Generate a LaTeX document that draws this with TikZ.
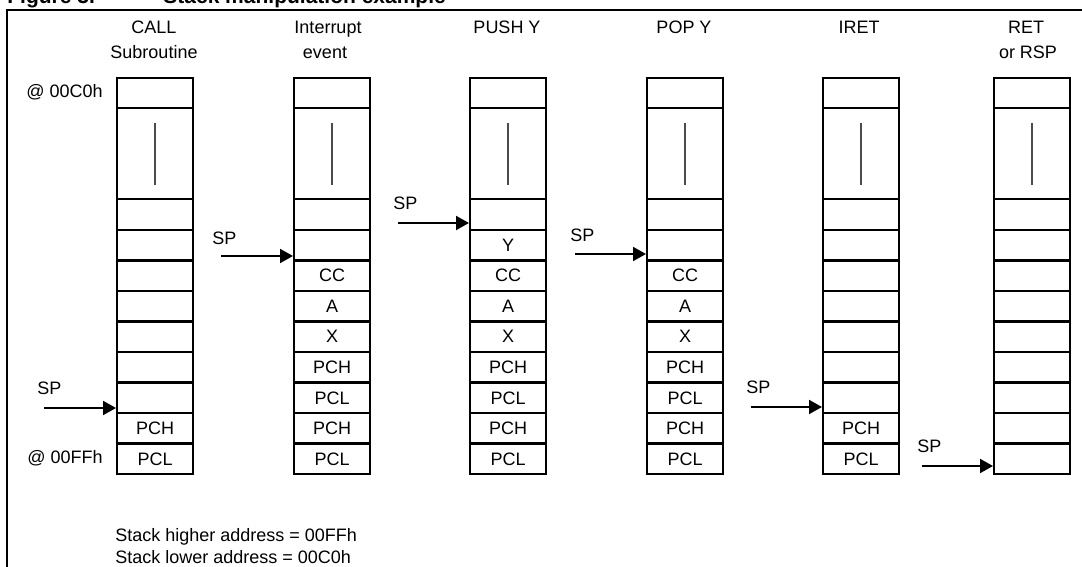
\documentclass[tikz,border=0pt]{standalone}
\usepackage{fontspec}
\setmainfont{Liberation Sans}
\usetikzlibrary{arrows.meta}

\tikzset{
  txt/.style={inner sep=0pt, font=\fontsize{9}{11}\selectfont},
  cell/.style={draw, line width=1.2pt, inner sep=0pt, minimum width=38pt,
    minimum height=15.28pt, anchor=north west, font=\fontsize{9}{11}\selectfont},
  gapline/.style={draw=black!70, line width=0.75pt},
  sparrow/.style={line width=1pt, -{Triangle[length=6.5pt,width=7pt]}},
  frame/.style={line width=0.6pt}
}

% #1 stack id, #2 left edge, #3 contents of the nine lower cells (top to bottom)
\newcommand\drawstack[3]{%
  \node[cell, minimum height=15pt] (#1-top) at (#2,77) {};
  \node[cell, minimum height=45.5pt] (#1-gap) at (#2,107) {};
  \draw[gapline] ([yshift=15.5pt]#1-gap.center) -- ([yshift=-15.5pt]#1-gap.center);
  \foreach \lab [count=\i] in {#3} {
    \node[cell] (#1-\i) at ({#2},{198+(\i-1)*30.556}) {\lab};
  }%
}

\begin{document}
\begin{tikzpicture}[x=0.5pt,y=-0.5pt]
\useasboundingbox (0,0) rectangle (1082,567);

% caption and frame
\node[anchor=base west, inner sep=0pt, font=\bfseries\fontsize{10.5}{12}\selectfont] (fig) at (7,4) {Figure 3.};
\node[anchor=base west, inner sep=0pt, font=\bfseries\fontsize{10.5}{12}\selectfont] (cap) at (163,4) {Stack manipulation example};
\draw[frame] (7,567) -- (7,10) -- (1082,10);

% stacks
\drawstack{c1}{116}{{},{},{},{},{},{},{},PCH,PCL}
\drawstack{c2}{293}{{},{},CC,A,X,PCH,PCL,PCH,PCL}
\drawstack{c3}{469}{{},Y,CC,A,X,PCH,PCL,PCH,PCL}
\drawstack{c4}{646}{{},{},CC,A,X,PCH,PCL,PCH,PCL}
\drawstack{c5}{822}{{},{},{},{},{},{},{},PCH,PCL}
\drawstack{c6}{993}{{},{},{},{},{},{},{},{},{}}

% column headings
\node[txt, anchor=base] (h1a) at (154,34) {CALL};
\node[txt, anchor=base] (h1b) at (154,59) {Subroutine};
\node[txt, anchor=base] (h2a) at (328,34) {Interrupt};
\node[txt, anchor=base] (h2b) at (325,59) {event};
\node[txt, anchor=base] (h3) at (507,34) {PUSH Y};
\node[txt, anchor=base] (h4) at (684,34) {POP Y};
\node[txt, anchor=base] (h5) at (859,34) {IRET};
\node[txt, anchor=base] (h6a) at (1026,34) {RET};
\node[txt, anchor=base] (h6b) at (1028,59) {or RSP};

% address marks
\node[txt, anchor=east] (lo) at (103,92) {@ 00C0h};
\node[txt, anchor=east] (hi) at (103,458) {@ 00FFh};

% stack pointers
\node[txt, anchor=west] (sp1) at (37,388) {SP};
\node[txt, anchor=west] (sp2) at (212,238) {SP};
\node[txt, anchor=west] (sp3) at (393,203) {SP};
\node[txt, anchor=west] (sp4) at (570,235) {SP};
\node[txt, anchor=west] (sp5) at (746,387) {SP};
\node[txt, anchor=west] (sp6) at (917,446) {SP};
\coordinate (a1) at (44,408);
\coordinate (a2) at (221,256);
\coordinate (a3) at (398,223);
\coordinate (a4) at (575,254);
\coordinate (a5) at (751,407);
\coordinate (a6) at (922,466);
\draw[sparrow] (a1) -- (a1 -| c1-7.west);
\draw[sparrow] (a2) -- (a2 -| c2-2.west);
\draw[sparrow] (a3) -- (a3 -| c3-1.west);
\draw[sparrow] (a4) -- (a4 -| c4-2.west);
\draw[sparrow] (a5) -- (a5 -| c5-7.west);
\draw[sparrow] (a6) -- (a6 -| c6-9.west);

% note
\node[txt, anchor=base west] (n1) at (115,541) {Stack higher address = 00FFh};
\node[txt, anchor=base west] (n2) at (115,563) {Stack lower address = 00C0h};
\end{tikzpicture}
\end{document}
